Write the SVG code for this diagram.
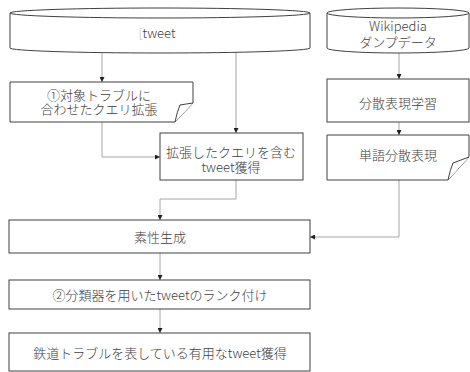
<svg xmlns="http://www.w3.org/2000/svg" width="470" height="372" viewBox="0 0 470 372">
<style>
.b{fill:#fff;stroke:#404040;stroke-width:1}
.t{font-family:"Noto Sans CJK JP","Noto Sans",sans-serif;font-size:13px;font-weight:300;fill:#404040;text-anchor:middle}
.c{fill:none;stroke:#a6a6a6;stroke-width:1}
</style>
<defs>
<marker id="a" viewBox="0 0 6 6" refX="6" refY="3" markerWidth="5" markerHeight="5" orient="auto" markerUnits="userSpaceOnUse">
<path d="M0,0L6,3L0,6z" fill="#202020"/>
</marker>
</defs>
<g id="connectors">
<path class="c" d="M102,53V82" marker-end="url(#a)"/>
<path class="c" d="M236,53V133" marker-end="url(#a)"/>
<path class="c" d="M102,122V157H160" marker-end="url(#a)"/>
<path class="c" d="M236,180V199H160V220" marker-end="url(#a)"/>
<path class="c" d="M399,53V79" marker-end="url(#a)"/>
<path class="c" d="M399,122V135" marker-end="url(#a)"/>
<path class="c" d="M399,180V237H310" marker-end="url(#a)"/>
<path class="c" d="M160,253V280" marker-end="url(#a)"/>
<path class="c" d="M160,309V333" marker-end="url(#a)"/>
</g>
<g id="tweet">
<path class="b" d="M10,13A150,5 0 0 1 310,13V48A150,5 0 0 1 10,48Z"/>
<path class="b" fill="none" d="M10,13A150,5 0 0 0 310,13"/>
<text class="t" x="157" y="37.5"><tspan fill="#c0c0c0">[</tspan>tweet</text>
</g>
<g id="wikipedia">
<path class="b" d="M327,13A71,5 0 0 1 469,13V48A71,5 0 0 1 327,48Z"/>
<path class="b" fill="none" d="M327,13A71,5 0 0 0 469,13"/>
<text class="t" x="398" y="30.5">Wikipedia</text>
<text class="t" x="398" y="46.5">ダンプデータ</text>
</g>
<g id="query">
<path class="b" d="M10,82H193V103L175,122H10Z"/>
<path class="b" d="M175,122Q177,112 180,105Q186,104 193,103"/>
<text class="t" x="99" y="99.5">①対象トラブルに</text>
<text class="t" x="99" y="114">合わせたクエリ拡張</text>
</g>
<g id="gettweet">
<rect class="b" x="160" y="133" width="143" height="47"/>
<text class="t" x="231" y="156.5">拡張したクエリを含む</text>
<text class="t" x="231" y="171.5">tweet獲得</text>
</g>
<g id="learn">
<rect class="b" x="327" y="79" width="142" height="43"/>
<text class="t" x="398" y="107.5">分散表現学習</text>
</g>
<g id="wordvec">
<path class="b" d="M327,135H469V157L448,180H327Z"/>
<path class="b" d="M448,180Q450,170 453,163Q461,160 469,157"/>
<text class="t" x="398" y="159.5">単語分散表現</text>
</g>
<g id="feature">
<rect class="b" x="9" y="220" width="301" height="33"/>
<text class="t" x="160" y="241.5">素性生成</text>
</g>
<g id="rank">
<rect class="b" x="9" y="280" width="301" height="29"/>
<text class="t" x="160" y="299.5">②分類器を用いたtweetのランク付け</text>
</g>
<g id="result">
<rect class="b" x="9" y="333" width="301" height="38"/>
<text class="t" x="160" y="357.5">鉄道トラブルを表している有用なtweet獲得</text>
</g>
</svg>
